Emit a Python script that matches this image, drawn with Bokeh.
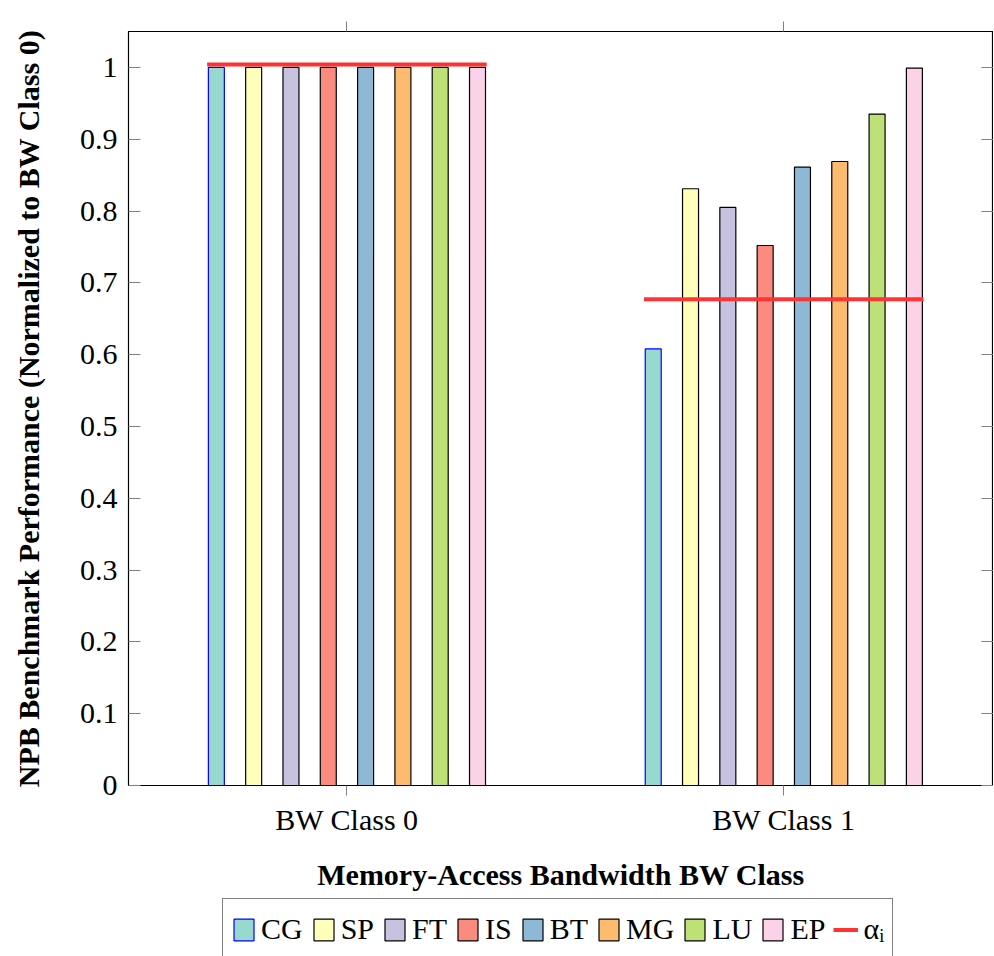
from bokeh.plotting import figure
from bokeh.layouts import column, row
from bokeh.models import (FixedTicker, LinearAxis, Legend, LegendItem, Range1d,
                          ColumnDataSource, CustomJSTickFormatter, Spacer)
from bokeh.embed import file_html
from bokeh.resources import INLINE

# ---- data ----
groups = ["BW Class 0", "BW Class 1"]
group_pos = [0, 1]
benchmarks = ["CG", "SP", "FT", "IS", "BT", "MG", "LU", "EP"]
class0 = [1.0, 1.0, 1.0, 1.0, 1.0, 1.0, 1.0, 1.0]
class1 = [0.608, 0.831, 0.805, 0.752, 0.861, 0.869, 0.935, 0.999]
alpha_i = [1.004, 0.677]
ytick_vals = [0, 0.1, 0.2, 0.3, 0.4, 0.5, 0.6, 0.7, 0.8, 0.9, 1]
ytick_labels = ["0", "0.1", "0.2", "0.3", "0.4", "0.5", "0.6", "0.7", "0.8", "0.9", "1"]

fills = ["#97d9cf", "#ffffbb", "#c6c2e0", "#fc8b7f", "#8db8d6", "#fdbb70", "#bde077", "#fbd2e7"]
lines = ["#0000ff"] + ["#000000"] * 7

SERIF = "Liberation Serif"

p = figure(frame_width=865, frame_height=754, output_backend="svg", toolbar_location=None,
           x_range=Range1d(-0.5, 1.48), y_range=Range1d(0, 1.05),
           min_border_left=128, min_border_right=0, min_border_top=31,
           min_border_bottom=113)
p.xgrid.visible = False
p.ygrid.visible = False
p.outline_line_color = "black"
p.outline_line_width = 1.2

# legend-holder figure placed under the chart
lp = figure(frame_width=700, frame_height=58, output_backend="svg", toolbar_location=None,
            x_range=Range1d(100, 101), y_range=Range1d(100, 101),
            x_axis_location=None, y_axis_location=None, min_border=0)
lp.xgrid.visible = False
lp.ygrid.visible = False
lp.outline_line_color = None

step = 0.0854
bw = 0.0366
leg_renderers = []
for i, b in enumerate(benchmarks):
    off = (i - 3.5) * step
    src = ColumnDataSource(dict(x=[g + off for g in group_pos], top=[class0[i], class1[i]]))
    kw = dict(x="x", top="top", width=bw, source=src, fill_color=fills[i],
              line_color=lines[i], line_width=1.2)
    p.vbar(**kw)
    leg_renderers.append(lp.vbar(**kw))

half = 0.32
seg_src = ColumnDataSource(dict(x0=[g - half for g in group_pos], x1=[g + half for g in group_pos],
                                y=alpha_i))
seg_kw = dict(x0="x0", x1="x1", y0="y", y1="y", source=seg_src,
              line_color="#ff3333", line_width=4)
p.segment(**seg_kw)
leg_seg = lp.segment(**seg_kw)

# x axis
xa = p.xaxis[0]
xa.ticker = FixedTicker(ticks=group_pos)
xa.major_label_overrides = {g: n for g, n in zip(group_pos, groups)}
xa.minor_tick_line_color = None
xa.major_tick_in = 0
xa.major_tick_out = 10
xa.major_tick_line_color = "#808080"
xa.axis_line_color = "black"
xa.major_label_standoff = 7
xa.axis_label = "Memory-Access Bandwidth BW Class"
xa.axis_label_standoff = 19

# y axis
ya = p.yaxis[0]
ya.ticker = FixedTicker(ticks=ytick_vals)
ya.major_label_overrides = {v: s for v, s in zip(ytick_vals, ytick_labels)}
ya.minor_tick_line_color = None
ya.major_tick_in = 12
ya.major_tick_out = 0
ya.major_tick_line_color = "#808080"
ya.axis_line_color = "black"
ya.major_label_standoff = 11
ya.axis_label = "NPB Benchmark Performance (Normalized to BW Class 0)"
ya.axis_label_standoff = 32

for ax in (xa, ya):
    ax.major_label_text_font = SERIF
    ax.major_label_text_font_size = "30px"
    ax.major_label_text_color = "black"
    ax.axis_label_text_font = SERIF
    ax.axis_label_text_font_size = "30px"
    ax.axis_label_text_font_style = "bold"
    ax.axis_label_text_color = "black"

# top and right decorative axes (ticks only)
blank = CustomJSTickFormatter(code="return ''")
top = LinearAxis(ticker=FixedTicker(ticks=group_pos), major_tick_in=0, major_tick_out=10,
                 formatter=blank, minor_tick_line_color=None, major_label_standoff=0,
                 major_tick_line_color="#808080", axis_line_color="black")
p.add_layout(top, "above")
right = LinearAxis(ticker=FixedTicker(ticks=ytick_vals), major_tick_in=12, major_tick_out=0,
                   formatter=blank, minor_tick_line_color=None, major_label_standoff=0,
                   major_tick_line_color="#808080", axis_line_color="black")
p.add_layout(right, "right")

items = [LegendItem(label=b, renderers=[r]) for b, r in zip(benchmarks, leg_renderers)]
items.append(LegendItem(label="αᵢ", renderers=[leg_seg]))
legend = Legend(items=items, orientation="horizontal", location="top_left",
                label_text_font=SERIF, label_text_font_size="30px",
                label_text_color="black", label_height=44,
                glyph_width=25, glyph_height=27, spacing=8, label_standoff=5,
                padding=8, margin=0, border_line_color="black", border_line_width=1.2,
                background_fill_alpha=1.0)
lp.add_layout(legend, "center")

layout = column(p, row(Spacer(width=222, height=58), lp))
open("out.html", "w").write(file_html(layout, INLINE))
